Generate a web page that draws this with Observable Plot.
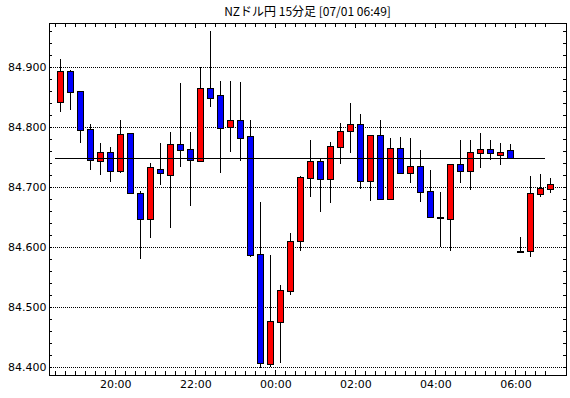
<!DOCTYPE html>
<html><head><meta charset="utf-8">
<script src="https://cdn.jsdelivr.net/npm/d3@7"></script>
<script src="https://cdn.jsdelivr.net/npm/@observablehq/plot@0.6"></script>
<style>
body{margin:0;background:#fff;}
#wrap{position:relative;width:570px;height:398px;}
#title{position:absolute;left:49px;width:517px;top:3px;text-align:center;font:12px "Noto Sans CJK JP";line-height:16px;color:#000;}
</style></head><body><div id="wrap"><div id="title">NZドル円 15分足 [07/01 06:49]</div></div>
<script>
const times = ["18:30","18:45","19:00","19:15","19:30","19:45","20:00","20:15","20:30","20:45",
"21:00","21:15","21:30","21:45","22:00","22:15","22:30","22:45","23:00","23:15",
"23:30","23:45","00:00","00:15","00:30","00:45","01:00","01:15","01:30","01:45",
"02:00","02:15","02:30","02:45","03:00","03:15","03:30","03:45","04:00","04:15",
"04:30","04:45","05:00","05:15","05:30","05:45","06:00","06:15","06:30","06:45"];
const opens = [84.842,84.892,84.858,84.795,84.744,84.757,84.727,84.788,84.688,84.647,
84.728,84.720,84.770,84.762,84.743,84.863,84.852,84.800,84.811,84.783,
84.587,84.405,84.475,84.527,84.610,84.715,84.742,84.713,84.767,84.793,
84.803,84.710,84.785,84.680,84.763,84.723,84.733,84.692,84.648,84.647,
84.737,84.727,84.757,84.762,84.753,84.760,84.592,84.593,84.688,84.697];
const highs = [84.914,84.895,84.858,84.806,84.774,84.767,84.812,84.789,84.694,84.740,
84.774,84.792,84.873,84.792,84.900,84.961,84.877,84.877,84.875,84.812,
84.675,84.587,84.537,84.623,84.718,84.778,84.748,84.775,84.807,84.840,
84.822,84.785,84.812,84.782,84.783,84.782,84.762,84.728,84.692,84.738,
84.778,84.778,84.790,84.778,84.773,84.772,84.617,84.718,84.722,84.715];
const lows = [84.826,84.828,84.773,84.728,84.721,84.708,84.723,84.689,84.580,84.615,
84.704,84.632,84.734,84.669,84.742,84.833,84.723,84.758,84.743,84.583,
84.398,84.401,84.407,84.520,84.594,84.683,84.659,84.674,84.738,84.757,
84.697,84.677,84.678,84.680,84.722,84.707,84.675,84.650,84.600,84.594,
84.707,84.695,84.732,84.745,84.737,84.748,84.592,84.584,84.683,84.690];
const closes = [84.892,84.858,84.795,84.745,84.757,84.727,84.787,84.690,84.647,84.732,
84.723,84.770,84.762,84.745,84.863,84.848,84.798,84.811,84.782,84.587,
84.407,84.475,84.527,84.608,84.715,84.742,84.713,84.767,84.792,84.803,
84.710,84.785,84.680,84.763,84.723,84.733,84.692,84.650,84.648,84.737,
84.727,84.757,84.762,84.757,84.757,84.748,84.592,84.688,84.697,84.703];
const refLevel = 84.748;
const yLabels = [84.4,84.5,84.6,84.7,84.8,84.9];
const xLabels = ["20:00","22:00","00:00","02:00","04:00","06:00"];

const toMin = s => { const [h,m] = s.split(":").map(Number); return (h < 12 ? h + 24 : h) * 60 + m - 18 * 60; };
const data = times.map((t, i) => ({t: toMin(t), o: opens[i], h: highs[i], l: lows[i], c: closes[i]}));
const xLabelMins = xLabels.map(toMin);
const yMinor = d3.range(84.40, 84.965, 0.02);
const xMinor = times.map(toMin);

const W = 570, H = 398, mL = 49, mR = 4, mT = 23, mB = 23;
const innerW = W - mL - mR, innerH = H - mT - mB;

const chart = Plot.plot({
  width: W, height: H, marginLeft: mL, marginRight: mR, marginTop: mT, marginBottom: mB,
  style: {fontFamily: "DejaVu Sans", fontSize: "11px", color: "black", background: "white"},
  x: {domain: [20.7, 795.75]},
  y: {domain: [84.3871, 84.9738]},
  color: {type: "identity"},
  marks: [
    Plot.gridY(yLabels, {stroke: "black", strokeOpacity: 1, strokeDasharray: "1,1"}),
    Plot.ruleX(data, {x: d => d.t + 7.5, y1: "l", y2: "h", stroke: "black", strokeWidth: 1}),
    Plot.rect(data, {x1: "t", x2: d => d.t + 15, y1: "o", y2: "c",
      fill: d => d.c > d.o ? "#ff0000" : d.c < d.o ? "#0000ff" : "black",
      stroke: "black", strokeWidth: 1, insetLeft: 2, insetRight: 2, insetTop: -0.5, insetBottom: -0.5}),
    Plot.ruleY([refLevel], {x1: xMinor[0], x2: xMinor[xMinor.length - 1], stroke: "black", strokeWidth: 1}),
    Plot.ruleX(xMinor, {stroke: "black", insetBottom: innerH - 4}),
    Plot.ruleX(xMinor, {stroke: "black", insetTop: innerH - 4}),
    Plot.ruleX(xLabelMins, {stroke: "black", insetBottom: innerH - 5}),
    Plot.ruleX(xLabelMins, {stroke: "black", insetTop: innerH - 5}),
    Plot.ruleY(yMinor, {stroke: "black", insetRight: innerW - 3}),
    Plot.ruleY(yMinor, {stroke: "black", insetLeft: innerW - 3}),
    Plot.frame({stroke: "black"}),
    Plot.axisY(yLabels, {tickSize: 0, tickPadding: 3, tickFormat: d3.format(".3f"), label: null}),
    Plot.axisX(xLabelMins, {tickSize: 0, tickPadding: 5, tickFormat: d => xLabels[xLabelMins.indexOf(d)], label: null})
  ]
});
chart.setAttribute("shape-rendering", "crispEdges");
document.getElementById("wrap").appendChild(chart);
</script></body></html>
